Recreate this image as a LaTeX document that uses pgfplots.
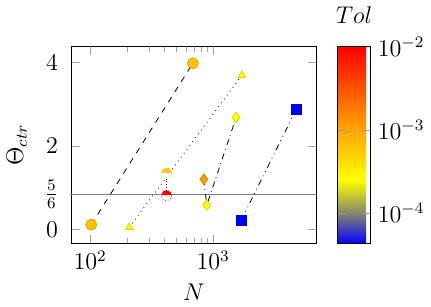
\documentclass[border=0pt]{standalone}
\usepackage{pgfplots}
\pgfplotsset{compat=1.18}
\begin{document}
\begin{tikzpicture}
\begin{axis}[
  scale only axis,
  width=122pt, height=98pt,
  xmode=log,
  xmin=70, xmax=6900,
  ymin=-0.345, ymax=4.38,
  ytick={0,0.83333,2,4},
  yticklabels={$0$,$\frac{5}{6}$,$2$,$4$},
  yticklabel style={font=\large, xshift=-3pt},
  xticklabel style={font=\large},
  xtick={100,1000},
  xlabel={$N$},
  ylabel={$\Theta_{ctr}$},
  ylabel style={font=\large, yshift=2pt},
  xlabel style={font=\large},
  tick style={black!35},
  colormap={tol}{rgb255(0pt)=(0,0,255); rgb255(37pt)=(135,135,110); rgb255(77pt)=(255,255,0); rgb255(137pt)=(255,165,0); rgb255(237pt)=(255,0,0)},
  point meta min=-4.37, point meta max=-2,
  colorbar,
  colorbar style={
    width=16.5pt,
    at={(parent axis.north east)}, anchor=north west, xshift=2pt,
    ytick={-4,-3,-2},
    yticklabels={$10^{-4}$,$10^{-3}$,$10^{-2}$},
    yticklabel style={font=\large},
    title={$Tol$},
    title style={font=\large, yshift=2pt},
    ytick style={black!40},
  },
  scatter/use mapped color={draw=mapped color!85!black, fill=mapped color},
]
\addplot[gray, thin, forget plot] coordinates {(70,0.83333) (6900,0.83333)};
% circles
\addplot[scatter, dashed, mark=*, mark size=2.7pt, mark options={solid}, point meta=explicit]
  coordinates {(102,0.11) [-3.2] (683,3.98) [-3.2]};
% triangles
\addplot[scatter, dotted, mark=triangle*, mark size=2.2pt, mark options={solid}, point meta=explicit]
  coordinates {(208,0.05) [-3.6] (1706,3.69) [-3.6]};
% half circles
\addplot[scatter, densely dotted, mark=halfcircle*, mark size=2.6pt, point meta=explicit,
  scatter/use mapped color={draw=mapped color, fill=mapped color}]
  coordinates {(418,1.35) [-3.25] (418,0.81) [-2]};
% diamonds
\addplot[scatter, dashdotted, mark=diamond*, mark size=2.6pt, mark options={solid}, point meta=explicit]
  coordinates {(839,1.20) [-2.95] (887,0.58) [-3.6] (1535,2.68) [-3.6]};
% squares
\addplot[scatter, dashdotdotted, mark=square*, mark size=2.5pt, mark options={solid}, point meta=explicit]
  coordinates {(1683,0.21) [-4.37] (4722,2.87) [-4.37]};
\end{axis}
\end{tikzpicture}
\end{document}
